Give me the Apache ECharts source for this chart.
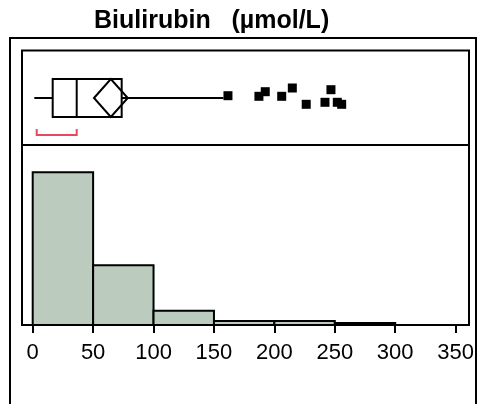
<!DOCTYPE html>
<html>
<head>
<meta charset="utf-8">
<script src="https://cdn.jsdelivr.net/npm/echarts@6/dist/echarts.min.js"></script>
<style>
  html, body { margin: 0; padding: 0; background: #fff; }
  #chart { width: 477px; height: 404px; }
</style>
</head>
<body>
<div id="chart"></div>
<script>
// histogram bins: [start, end, percent]
const binStarts = [0, 50, 100, 150, 200, 250]
const binEnds = [50, 100, 150, 200, 250, 300]
const binValues = [64.5, 25.2, 6.0, 1.7, 1.7, 0.8]

// box plot summary (µmol/L)
const whiskerLow = 1.3
const q1 = 16.4
const median = 36.1
const q3 = 73.0
const whiskerHigh = 156.5
const meanLow = 50.3
const mean = 64.1
const meanHigh = 78.0
// shortest half bracket
const shorthLow = 3.3
const shorthHigh = 36.1

// outliers and their vertical jitter
const outlierValues = [160.2, 185.6, 190.8, 204.3, 213.0, 224.4, 244.7, 239.8, 249.9, 253.5]
const outlierJitter = [2.3, 1.7, 6.3, 1.7, 10, -6.3, 8.3, -4.3, -4.3, -6.3]

const xTicks = [0, 50, 100, 150, 200, 250, 300, 350]

const font = '"Liberation Sans", Arial, sans-serif'
const chart = echarts.init(document.getElementById('chart'))

const histData = binStarts.map((s, i) => [s, binEnds[i], binValues[i]])
const outliers = outlierValues.map((v, i) => [v, outlierJitter[i]])

const options = {
  animation: false,
  title: {
    text: 'Biulirubin   (µmol/L)',
    left: 94,
    top: 9,
    padding: 0,
    textStyle: { fontFamily: font, fontSize: 25, fontWeight: 'bold', color: '#000' },
  },
  graphic: [
    { type: 'rect', shape: { x: 10, y: 38, width: 466, height: 420 }, style: { fill: 'none', stroke: '#000', lineWidth: 2 }, z: 100 },
    { type: 'rect', shape: { x: 22, y: 50.5, width: 447, height: 274.5 }, style: { fill: 'none', stroke: '#000', lineWidth: 2 }, z: 100 },
    { type: 'line', shape: { x1: 22, y1: 145, x2: 469, y2: 145 }, style: { stroke: '#000', lineWidth: 2 }, z: 100 },
  ],
  grid: [
    { left: 32.7, right: 17.7, top: 51, height: 94 },
    { left: 32.7, right: 17.7, top: 145, height: 180 },
  ],
  xAxis: [
    { gridIndex: 0, type: 'value', min: 0, max: 350, show: false },
    {
      gridIndex: 1,
      type: 'value',
      min: 0,
      max: 350,
      interval: 50,
      axisLine: { show: false },
      axisTick: { show: true, length: 8, lineStyle: { color: '#000', width: 2 } },
      splitLine: { show: false },
      axisLabel: {
        margin: 17,
        fontFamily: font,
        fontSize: 22,
        color: '#000',
        formatter: (v) => (xTicks.indexOf(v) >= 0 ? String(v) : ''),
      },
    },
  ],
  yAxis: [
    { gridIndex: 0, type: 'value', min: -47, max: 47, show: false },
    { gridIndex: 1, type: 'value', min: 0, max: 76, show: false },
  ],
  series: [
    {
      type: 'custom',
      xAxisIndex: 1,
      yAxisIndex: 1,
      data: histData,
      renderItem: (params, api) => {
        const p0 = api.coord([api.value(0), 0])
        const p1 = api.coord([api.value(1), api.value(2)])
        return {
          type: 'rect',
          shape: { x: p0[0], y: p1[1], width: p1[0] - p0[0], height: p0[1] - p1[1] },
          style: { fill: '#bbcbbd', stroke: '#000', lineWidth: 2 },
        }
      },
    },
    {
      type: 'custom',
      xAxisIndex: 0,
      yAxisIndex: 0,
      data: [[whiskerLow, q1, median, q3, whiskerHigh, meanLow, mean, meanHigh, shorthLow, shorthHigh]],
      renderItem: (params, api) => {
        const x = (i) => api.coord([api.value(i), 0])[0]
        const cy = api.coord([0, 0])[1]
        const h = 19
        const st = { stroke: '#000', lineWidth: 2, fill: 'none' }
        const by = cy + 31
        return {
          type: 'group',
          children: [
            { type: 'line', shape: { x1: x(0), y1: cy, x2: x(1), y2: cy }, style: st },
            { type: 'line', shape: { x1: x(3), y1: cy, x2: x(4), y2: cy }, style: st },
            { type: 'rect', shape: { x: x(1), y: cy - h, width: x(3) - x(1), height: 2 * h }, style: st },
            { type: 'line', shape: { x1: x(2), y1: cy - h, x2: x(2), y2: cy + h }, style: st },
            {
              type: 'polygon',
              shape: { points: [[x(5), cy], [x(6), cy - h], [x(7), cy], [x(6), cy + h]] },
              style: st,
            },
            {
              type: 'polyline',
              shape: { points: [[x(8), by], [x(8), by + 6], [x(9), by + 6], [x(9), by]] },
              style: { stroke: '#e8485e', lineWidth: 2, fill: 'none' },
            },
          ],
        }
      },
    },
    {
      type: 'scatter',
      xAxisIndex: 0,
      yAxisIndex: 0,
      symbol: 'rect',
      symbolSize: 9,
      itemStyle: { color: '#000', opacity: 1 },
      data: outliers,
    },
  ],
}
chart.setOption(options, true)
</script>
</body>
</html>
